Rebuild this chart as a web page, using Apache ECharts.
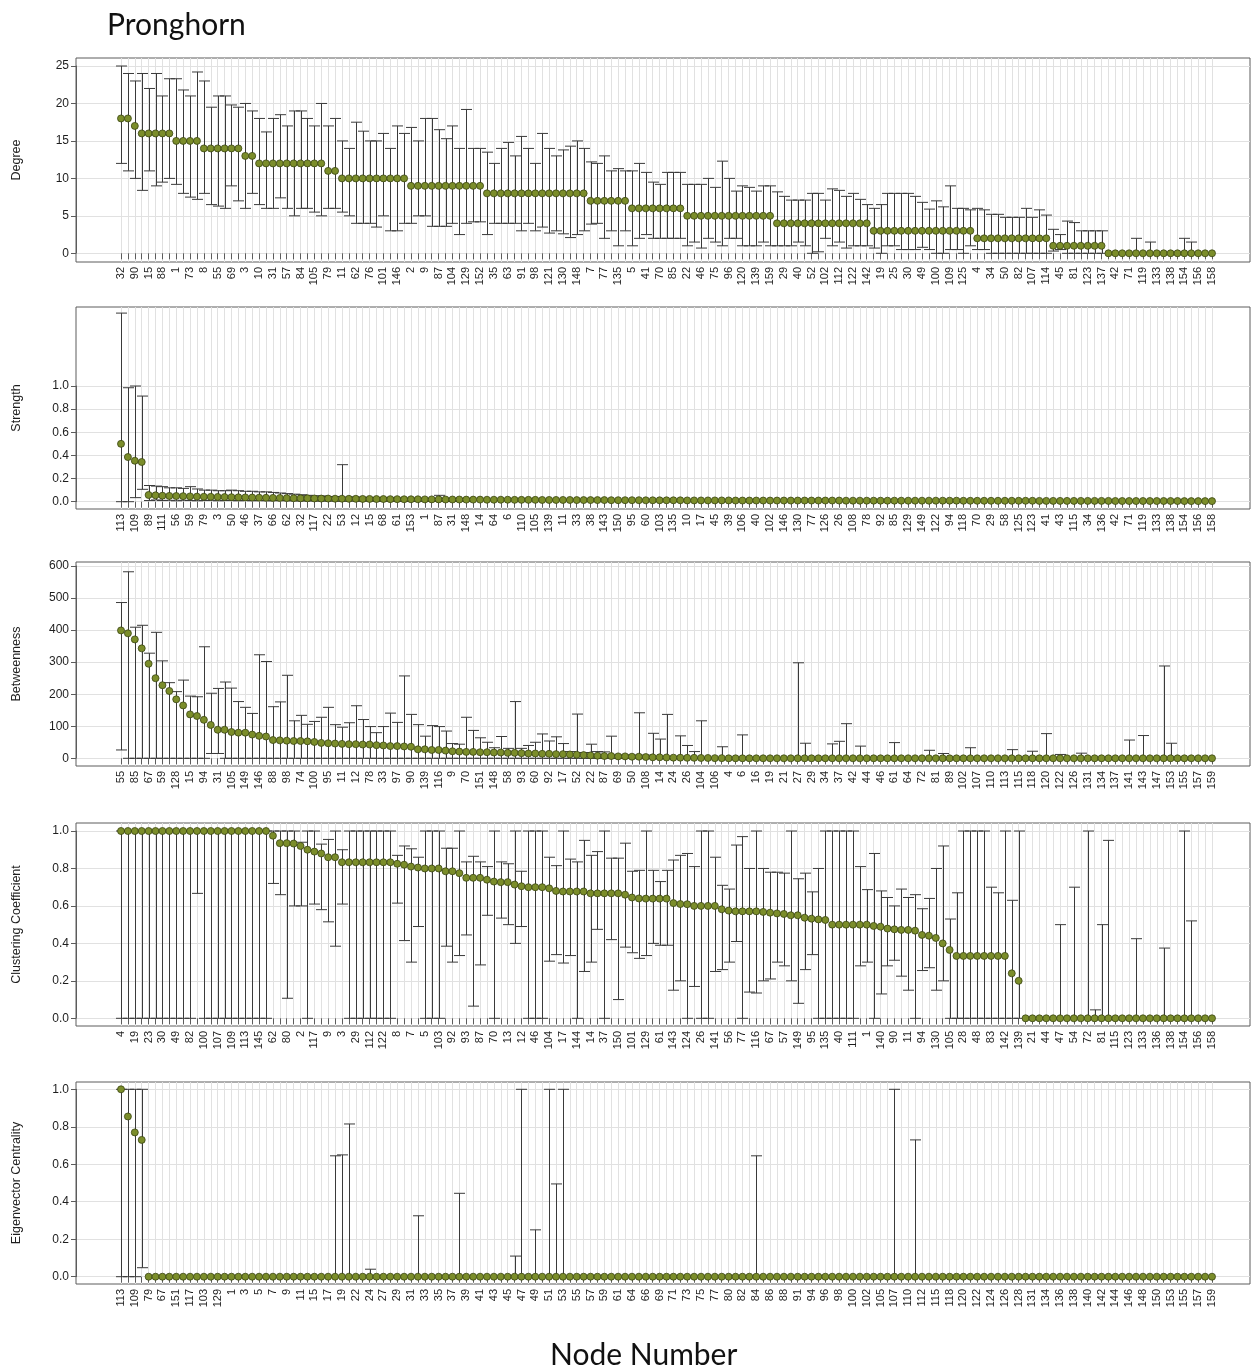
<!DOCTYPE html>
<html>
<head>
<meta charset="utf-8">
<script src="https://cdn.jsdelivr.net/npm/echarts@6.0.0/dist/echarts.min.js"></script>
<style>
  html, body { margin: 0; padding: 0; background: #ffffff; }
  #chart { width: 1252px; height: 1370px; }
</style>
</head>
<body>
<div id="chart"></div>
<script>
// ---------------- Degree ----------------
const degreeNodes = [
  32,6,90,12,15,13,88,14,1,16,
  73,17,8,18,55,20,69,21,3,23,
  10,24,31,26,57,27,84,28,105,33,
  79,36,11,37,62,38,76,39,101,43,
  146,44,2,47,9,48,87,51,104,53,
  129,54,152,56,35,58,63,59,91,60,
  98,61,121,64,130,65,148,66,7,67,
  77,68,135,72,5,74,41,78,70,80,
  85,83,22,86,46,89,75,92,96,93,
  120,94,139,95,159,97,29,99,40,103,
  52,106,102,108,112,110,122,111,142,113,
  19,115,25,116,30,117,49,118,100,124,
  109,126,125,127,4,128,34,131,50,132,
  82,134,107,136,114,140,45,141,81,143,
  123,144,137,145,42,147,71,149,119,150,
  133,151,138,153,154,155,156,157,158
];
const degreeValue = [
  18,18,17,16,16,16,16,16,15,15,
  15,15,14,14,14,14,14,14,13,13,
  12,12,12,12,12,12,12,12,12,12,
  11,11,10,10,10,10,10,10,10,10,
  10,10,9,9,9,9,9,9,9,9,
  9,9,9,8,8,8,8,8,8,8,
  8,8,8,8,8,8,8,8,7,7,
  7,7,7,7,6,6,6,6,6,6,
  6,6,5,5,5,5,5,5,5,5,
  5,5,5,5,5,4,4,4,4,4,
  4,4,4,4,4,4,4,4,4,3,
  3,3,3,3,3,3,3,3,3,3,
  3,3,3,3,2,2,2,2,2,2,
  2,2,2,2,2,1,1,1,1,1,
  1,1,1,0,0,0,0,0,0,0,
  0,0,0,0,0,0,0,0,0
];
const degreeLow = [
  12,11,10,8.4,11,9,9.5,10,9.2,8,
  7.5,7.2,8,6.5,6.3,6,9,7,6,8,
  6.5,6,6,7.4,6,5,6,6,5.5,5,
  6,6,5.5,5,4,4,4,3.5,5,3,
  3,4,4,5,5,3.6,3.6,3.6,4,2.5,
  4,4.2,4.2,2.5,4,4,4,4,3,4,
  3,3.5,2.7,3,2.6,2.1,2.5,3,3.9,4,
  2,3,1,3,1,2,2.5,2,2,2,
  2,2,1,1.5,0.7,2,1.5,1,2,2,
  1,1,1,1.5,1,1,1,1,1.5,1,
  0,0.2,2,1,1.5,0.7,1,1,1,0.7,
  0,1,1,0.5,0.5,0.5,0.8,0.5,0,0,
  0.5,0.5,0,1,0.5,0.5,0,0,0,0,
  0,0,0,0,0,0.3,0.5,0,0,0
];
const degreeHigh = [
  25,24,23,24,22,24,21,23.3,23.3,21.8,
  21,24.2,23,19.5,21,21,19.8,19.5,20,19,
  18,16.2,18,18.5,17,19,19,18,17,20,
  17,18,15,14,17.5,16.3,15,15,16,14,
  17,16,16.8,15,18,18,16.5,15.3,17,14,
  19.2,14,14,13.5,12,14,14.8,13,15.6,14,
  12,16,14,13,13.8,14.3,15,14,12.2,12,
  13,11,11.3,11,11,12,10.8,9.5,9.2,10.8,
  10.8,10.8,9.2,9.2,9.2,10,8.8,12.3,10,8.3,
  9,8.8,8.3,9,9,8.2,7.6,7.1,7.1,7.1,
  8,8,7.1,8.6,8.4,7.6,8,7.2,6.5,6,
  6.5,8,8,8,8,7.6,6.8,5.9,7,6.2,
  9,6,6,5.8,6,5.8,5.2,5.2,4.8,4.8,
  4.8,6,4.8,5.8,5.1,3.2,2.5,4.3,4.1,3,
  3,3,3,0,0,0,0,2,0,1.5,
  0,0,0,0,2,1.5,0,0,0
];

// ---------------- Strength ----------------
const strengthNodes = [
  113,90,109,88,89,73,111,8,56,2,
  59,9,79,84,3,76,50,57,46,5,
  37,4,66,7,62,13,32,16,117,18,
  22,19,53,20,12,21,15,23,68,24,
  61,25,153,27,1,28,87,30,31,35,
  148,36,14,44,64,47,6,48,110,49,
  105,51,139,52,11,54,33,55,38,63,
  143,65,150,67,95,69,60,72,103,74,
  135,75,10,80,17,81,45,82,39,83,
  106,86,40,91,102,93,146,96,130,97,
  77,98,126,99,26,100,108,101,78,104,
  92,107,85,112,129,114,149,116,122,120,
  94,121,118,124,70,127,29,128,58,131,
  125,132,123,134,41,137,43,140,115,141,
  34,142,136,144,42,145,71,147,119,151,
  133,152,138,155,154,157,156,159,158
];
const strengthValue = [
  0.5,0.386,0.354,0.343,0.058,0.055,0.052,0.05,0.049,0.048,
  0.046,0.044,0.043,0.042,0.041,0.04,0.039,0.038,0.037,0.036,
  0.035,0.034,0.033,0.032,0.031,0.03,0.029,0.029,0.028,0.027,
  0.027,0.026,0.026,0.025,0.025,0.024,0.024,0.023,0.023,0.022,
  0.022,0.021,0.021,0.021,0.02,0.02,0.02,0.019,0.019,0.019,
  0.018,0.018,0.018,0.017,0.017,0.017,0.017,0.016,0.016,0.016,
  0.016,0.015,0.015,0.015,0.015,0.015,0.014,0.014,0.014,0.014,
  0.014,0.013,0.013,0.013,0.013,0.013,0.012,0.012,0.012,0.012,
  0.012,0.012,0.011,0.011,0.011,0.011,0.011,0.011,0.011,0.01,
  0.01,0.01,0.01,0.01,0.01,0.01,0.01,0.01,0.01,0.01,
  0.01,0.01,0.01,0.01,0.01,0.009,0.009,0.009,0.009,0.009,
  0.009,0.009,0.009,0.009,0.009,0.009,0.009,0.009,0.009,0.009,
  0.009,0.009,0.008,0.008,0.008,0.008,0.008,0.008,0.008,0.008,
  0.008,0.008,0.008,0.007,0.007,0.007,0.007,0.007,0.007,0.007,
  0.007,0.007,0.007,0.007,0.006,0.006,0.006,0.006,0.006,0.006,
  0.006,0.006,0.006,0.006,0.005,0.005,0.005,0.005,0.005
];
// intervals are listed for the leading nodes; the rest collapse onto their points
const strengthLow = [
  0,0,0.035,0.107,0.01,0.015,0.01,0.012,0.008,0.012,
  0.01,0.008,0.01,0.012,0.008,0.01,0.01,0.008,0.01,0.008,
  0.01,0.008,0.008,0.01,0.008,0.008,0.006,0.008,0.006,0.006,
  0.006,0.006,0.004,0.006,0.006,0.004,0.006,0.004,0.004,0.004,
  0.004,0.004,0.004,0.004,0.004,0.004,0.004,0.004,0.004,0.004,
  0.004
];
const strengthHigh = [
  1.63,0.985,1.0,0.913,0.14,0.135,0.13,0.12,0.12,0.115,
  0.13,0.11,0.1,0.1,0.095,0.095,0.1,0.095,0.09,0.09,
  0.085,0.085,0.08,0.075,0.07,0.065,0.06,0.055,0.05,0.05,
  0.045,0.045,0.32,0.04,0.04,0.038,0.036,0.035,0.034,0.033,
  0.032,0.03,0.03,0.03,0.029,0.029,0.055,0.028,0.027,0.027,
  0.026
];

// ---------------- Betweenness ----------------
const betweennessNodes = [
  55,32,85,1,67,3,59,8,128,101,
  15,10,94,13,31,25,105,36,149,130,
  146,39,88,40,98,41,74,48,100,49,
  95,51,11,53,12,54,78,56,33,57,
  97,63,90,66,139,68,116,71,9,75,
  70,76,151,77,148,79,58,80,93,83,
  60,84,92,86,17,96,52,99,22,2,
  87,112,69,124,50,125,108,129,14,133,
  24,136,26,140,104,145,106,152,4,5,
  6,7,16,18,19,20,21,23,27,28,
  29,30,34,35,37,38,42,43,44,45,
  46,47,61,62,64,65,72,73,81,82,
  89,91,102,103,107,109,110,111,113,114,
  115,117,118,119,120,121,122,123,126,127,
  131,132,134,135,137,138,141,142,143,144,
  147,150,153,154,155,156,157,158,159
];
const betweennessValue = [
  399,390,371,343,295,250,228,210,184,165,
  137,132,120,104,89,89,82,80,80,74,
  70,68,57,56,55,54,54,53,51,48,
  47,46,45,44,44,43,43,41,40,38,
  38,37,36,28,28,26,26,24,22,21,
  20,20,19,19,18,18,17,17,16,15,
  15,14,14,13,13,12,11,10,9,8,
  7,7,6,6,5,5,4,3,3,2.5,
  2,2,1.5,1.5,1,1,0.5,0.5,0,0,
  0,0,0,0,0,0,0,0,0,0,
  0,0,0,0,0,0,0,0,0,0,
  0,0,0,0,0,0,0,0,0,0,
  0,0,0,0,0,0,0,0,0,0,
  0,0,0,0,0,0,0,0,0,0,
  0,0,0,0,0,0,0,0,0,0,
  0,0,0,0,0,0,0,0,0
];
const betweennessLow = [
  26,0,0,0,0,0,0,0,0,0,
  0,0,0,15,15,0
];
const betweennessHigh = [
  486,582,409,415,328,393,304,236,208,244,
  194,192,348,203,218,238,219,177,159,140,
  323,302,161,176,259,117,134,106,115,128,
  159,105,97,111,164,121,99,80,99,141,
  112,257,137,105,69,102,99,85,46,44,
  128,87,64,50,33,68,31,177,31,40,
  50,76,54,67,46,21,138,18,44,21,
  20,69,10,10,10,142,10,78,60,137,
  0,70,40,21,117,0,0,36,0,0,
  73,0,0,0,0,0,0,0,298,47,
  0,0,0,45,53,108,0,38,0,0,
  0,0,49,0,0,0,0,25,0,15,
  0,0,0,33,0,0,0,0,0,27,
  0,0,22,0,77,0,12,0,0,16,
  0,0,0,0,0,0,57,0,71,0,
  0,288,47,0,0,0,0,0,0
];

// ---------------- Clustering Coefficient ----------------
const clusteringNodes = [
  4,6,19,20,23,24,30,31,49,51,
  82,85,100,102,107,108,109,110,113,114,
  145,147,62,15,80,16,2,18,117,25,
  9,27,3,32,29,33,112,34,122,35,
  8,36,7,38,5,39,103,41,92,42,
  93,43,87,52,70,53,13,58,12,59,
  46,60,104,63,17,64,144,65,14,66,
  37,68,150,69,101,71,129,74,61,75,
  143,76,124,78,26,79,141,86,56,88,
  77,89,116,91,67,96,57,97,149,98,
  95,99,135,106,40,119,111,120,1,121,
  140,126,90,127,11,128,94,131,130,132,
  105,148,28,151,48,152,83,153,142,159,
  139,10,21,22,44,45,47,50,54,55,
  72,73,81,84,115,118,123,125,133,134,
  136,137,138,146,154,155,156,157,158
];
const clusteringValue = [
  1,1,1,1,1,1,1,1,1,1,
  1,1,1,1,1,1,1,1,1,1,
  1,1,0.975,0.935,0.935,0.933,0.92,0.9,0.89,0.88,
  0.86,0.86,0.833,0.833,0.833,0.833,0.833,0.833,0.833,0.833,
  0.825,0.82,0.81,0.805,0.8,0.8,0.8,0.785,0.785,0.775,
  0.75,0.75,0.75,0.74,0.73,0.727,0.727,0.714,0.705,0.7,
  0.7,0.7,0.694,0.68,0.677,0.677,0.677,0.677,0.667,0.667,
  0.667,0.667,0.667,0.66,0.645,0.64,0.639,0.639,0.639,0.639,
  0.615,0.61,0.609,0.6,0.6,0.6,0.6,0.582,0.575,0.571,
  0.571,0.571,0.571,0.568,0.564,0.56,0.557,0.55,0.55,0.537,
  0.532,0.528,0.525,0.5,0.5,0.5,0.5,0.5,0.5,0.493,
  0.489,0.479,0.475,0.472,0.472,0.468,0.445,0.441,0.429,0.4,
  0.365,0.333,0.333,0.333,0.333,0.333,0.333,0.333,0.333,0.24,
  0.2,0,0,0,0,0,0,0,0,0,
  0,0,0,0,0,0,0,0,0,0,
  0,0,0,0,0,0,0,0,0
];
const clusteringLow = [
  0,0,0,0,0,0,0,0,0,0,
  0,0.667,0,0,0,0,0,0,0,0,
  0,0,0.72,0.66,0.107,0.6,0.6,0,0.61,0.58,
  0.515,0.385,0.61,0,0,0,0,0,0,0,
  0.615,0.415,0.3,0.49,0,0,0,0.385,0.3,0.335,
  0.445,0.065,0.285,0.55,0,0.535,0.5,0.4,0.49,0,
  0,0,0.305,0.34,0.295,0.335,0,0.25,0.3,0.475,
  0,0.42,0.1,0.38,0.35,0.32,0.335,0.4,0.39,0.39,
  0.15,0.2,0,0.17,0,0,0.25,0.26,0.3,0.41,
  0,0.14,0.135,0.2,0.21,0.3,0.28,0.2,0.08,0.26,
  0.34,0,0,0,0,0,0,0.28,0.3,0,
  0.13,0.28,0.31,0.225,0.15,0,0.255,0.27,0.15,0.2
];
const clusteringHigh = [
  1,1,1,1,1,1,1,1,1,1,
  1,1,1,1,1,1,1,1,1,1,
  1,1,1,1,1,1,0.94,1,1,0.93,
  0.955,1,0.9,1,1,1,1,1,1,1,
  0.87,0.92,0.905,0.86,1,1,1,0.908,0.908,1,
  0.835,0.865,0.835,0.81,1,0.835,0.825,1,0.785,1,
  1,1,0.86,0.815,1,0.85,0.835,0.95,0.87,0.89,
  1,0.855,0.855,0.935,0.785,0.79,1,0.79,0.73,0.79,
  0.845,0.87,0.88,0.81,1,1,0.86,0.71,0.69,0.925,
  0.97,0.8,1,0.8,0.78,0.78,0.775,1,0.745,0.775,
  0.675,0.8,1,1,1,1,1,0.81,0.687,0.88,
  0.68,0.645,0.6,0.69,0.645,0.66,0.585,0.64,0.8,0.92,
  0.53,0.67,1,1,1,1,0.7,0.67,1,0.63,
  1,0,0,0,0,0,0.5,0,0.7,0,
  1,0.045,0.5,0.95,0,0,0,0.425,0,0,
  0,0.375,0,0,1,0.52,0,0,0
];

// ---------------- Eigenvector Centrality ----------------
const eigenNodes = [
  113,90,109,93,79,63,67,13,151,14,
  117,21,103,26,129,133,1,2,3,4,
  5,6,7,8,9,10,11,12,15,16,
  17,18,19,20,22,23,24,25,27,28,
  29,30,31,32,33,34,35,36,37,38,
  39,40,41,42,43,44,45,46,47,48,
  49,50,51,52,53,54,55,56,57,58,
  59,60,61,62,64,65,66,68,69,70,
  71,72,73,74,75,76,77,78,80,81,
  82,83,84,85,86,87,88,89,91,92,
  94,95,96,97,98,99,100,101,102,104,
  105,106,107,108,110,111,112,114,115,116,
  118,119,120,121,122,123,124,125,126,127,
  128,130,131,132,134,135,136,137,138,139,
  140,141,142,143,144,145,146,147,148,149,
  150,152,153,154,155,156,157,158,159
];
const eigenValue = [
  1,0.855,0.77,0.73,0,0,0,0,0,0,
  0,0,0,0,0,0,0,0,0,0,
  0,0,0,0,0,0,0,0,0,0,
  0,0,0,0,0,0,0,0,0,0,
  0,0,0,0,0,0,0,0,0,0,
  0,0,0,0,0,0,0,0,0,0,
  0,0,0,0,0,0,0,0,0,0,
  0,0,0,0,0,0,0,0,0,0,
  0,0,0,0,0,0,0,0,0,0,
  0,0,0,0,0,0,0,0,0,0,
  0,0,0,0,0,0,0,0,0,0,
  0,0,0,0,0,0,0,0,0,0,
  0,0,0,0,0,0,0,0,0,0,
  0,0,0,0,0,0,0,0,0,0,
  0,0,0,0,0,0,0,0,0,0,
  0,0,0,0,0,0,0,0,0
];
const eigenLow = [0,0,0,0.048];
const eigenHigh = [
  1,1,1,1,0,0,0,0,0,0,
  0,0,0,0,0,0,0,0,0,0,
  0,0,0,0,0,0,0,0,0,0,
  0,0.645,0.65,0.815,0,0,0.04,0,0,0,
  0,0,0,0.325,0,0,0,0,0,0.445,
  0,0,0,0,0,0,0,0.11,1,0,
  0.25,0,1,0.495,1,0,0,0,0,0,
  0,0,0,0,0,0,0,0,0,0,
  0,0,0,0,0,0,0,0,0,0,
  0,0,0.645,0,0,0,0,0,0,0,
  0,0,0,0,0,0,0,0,0,0,
  0,0,1,0,0,0.73,0,0,0,0,
  0,0,0,0,0,0,0,0,0,0,
  0,0,0,0,0,0,0,0,0,0,
  0,0,0,0,0,0,0,0,0,0,
  0,0,0,0,0,0,0,0,0
];

// ---------------- layout & styling ----------------
const WIDTH = 1252;
const FRAME_LEFT = 76, FRAME_RIGHT = 1250;   // plot frame
const FIRST_X = 121, LAST_X = 1212;          // first / last node position
const FONT = '"Liberation Sans", Arial, sans-serif';
const COLORS = {
  point: '#7b8d2a', pointEdge: '#3a4512', whisker: '#3a3a3a',
  grid: '#e1e1e1', frame: '#5c5c5c', text: '#1e1e1e'
};

const panels = [
  { name: 'Degree', nodes: degreeNodes, value: degreeValue, low: degreeLow, high: degreeHigh,
    frame: [58, 262], scale: { min: 0, max: 25, step: 5, pxTop: 66, pxBottom: 253.3, digits: 0 } },
  { name: 'Strength', nodes: strengthNodes, value: strengthValue, low: strengthLow, high: strengthHigh,
    frame: [307, 509], scale: { min: 0, max: 1, step: 0.2, pxTop: 386, pxBottom: 501.7, digits: 1 } },
  { name: 'Betweenness', nodes: betweennessNodes, value: betweennessValue, low: betweennessLow, high: betweennessHigh,
    frame: [562, 766], scale: { min: 0, max: 600, step: 100, pxTop: 566, pxBottom: 758.3, digits: 0 } },
  { name: 'Clustering Coefficient', nodes: clusteringNodes, value: clusteringValue, low: clusteringLow, high: clusteringHigh,
    frame: [823, 1026], scale: { min: 0, max: 1, step: 0.2, pxTop: 831, pxBottom: 1018.3, digits: 1 } },
  { name: 'Eigenvector Centrality', nodes: eigenNodes, value: eigenValue, low: eigenLow, high: eigenHigh,
    frame: [1082, 1284], scale: { min: 0, max: 1, step: 0.2, pxTop: 1089.3, pxBottom: 1276.7, digits: 1 } }
];

// whiskers with end caps, one per node
function renderWhisker(params, api) {
  const lo = api.value(1), hi = api.value(2);
  const a = api.coord([api.value(0), lo]);
  const b = api.coord([api.value(0), hi]);
  const x = Math.round(a[0]) + 0.5;
  const cap = 5.5;
  const style = { stroke: COLORS.whisker, lineWidth: 1 };
  return {
    type: 'group',
    children: [
      { type: 'line', shape: { x1: x, y1: a[1], x2: x, y2: b[1] }, style },
      { type: 'line', shape: { x1: x - cap, y1: a[1], x2: x + cap, y2: a[1] }, style },
      { type: 'line', shape: { x1: x - cap, y1: b[1], x2: x + cap, y2: b[1] }, style }
    ]
  };
}

const grid = [], xAxis = [], yAxis = [], series = [];

panels.forEach((p, k) => {
  const [top, bottom] = p.frame;
  const s = p.scale;
  const pxPerUnit = (s.pxBottom - s.pxTop) / (s.max - s.min);
  const frameMax = s.max + (s.pxTop - top) / pxPerUnit;
  const frameMin = s.min - (bottom - s.pxBottom) / pxPerUnit;

  // 1) frame with the axis title
  grid.push({ left: FRAME_LEFT, right: WIDTH - FRAME_RIGHT, top: top, height: bottom - top,
              show: true, borderColor: COLORS.frame, borderWidth: 1, backgroundColor: 'transparent' });
  xAxis.push({ gridIndex: 3 * k, type: 'value', show: false });
  yAxis.push({ gridIndex: 3 * k, type: 'value', min: 0, max: 1,
               name: p.name, nameLocation: 'middle', nameGap: 53,
               nameTextStyle: { fontFamily: FONT, fontSize: 12.5, color: COLORS.text },
               axisLine: { show: false }, axisTick: { show: false },
               axisLabel: { show: false }, splitLine: { show: false } });

  // 2) labelled value scale with horizontal guide lines
  grid.push({ left: FRAME_LEFT, right: WIDTH - FRAME_RIGHT, top: s.pxTop, height: s.pxBottom - s.pxTop });
  xAxis.push({ gridIndex: 3 * k + 1, type: 'value', show: false });
  yAxis.push({ gridIndex: 3 * k + 1, type: 'value', min: s.min, max: s.max, interval: s.step, offset: 3,
               axisLine: { show: true, lineStyle: { color: COLORS.frame } },
               axisTick: { show: true, length: 5, lineStyle: { color: COLORS.frame } },
               axisLabel: { margin: 4, fontFamily: FONT, fontSize: 12, color: COLORS.text,
                            formatter: v => v.toFixed(s.digits) },
               splitLine: { show: true, lineStyle: { color: COLORS.grid, width: 1 } } });

  // 3) node axis carrying the marks
  grid.push({ left: FIRST_X, right: WIDTH - LAST_X, top: top, height: bottom - top });
  xAxis.push({ gridIndex: 3 * k + 2, type: 'category', data: p.nodes.map(String), boundaryGap: false,
               axisLine: { show: false },
               axisTick: { show: true, interval: 0, length: 6, lineStyle: { color: COLORS.frame } },
               axisLabel: { interval: 1, rotate: 90, margin: 5, fontFamily: FONT, fontSize: 11, color: COLORS.text },
               splitLine: { show: true, interval: 0, lineStyle: { color: COLORS.grid, width: 1 } } });
  yAxis.push({ gridIndex: 3 * k + 2, type: 'value', min: frameMin, max: frameMax, show: false });

  const whiskers = [];
  p.nodes.forEach((n, i) => {
    const hi = p.high[i];
    const lo = p.low[i] === undefined ? 0 : p.low[i];
    if (hi !== undefined && hi > lo) whiskers.push([i, lo, hi]);
  });

  series.push({ type: 'custom', xAxisIndex: 3 * k + 2, yAxisIndex: 3 * k + 2,
                renderItem: renderWhisker, data: whiskers, encode: { x: 0, y: [1, 2] },
                silent: true, z: 3 });
  series.push({ type: 'scatter', xAxisIndex: 3 * k + 2, yAxisIndex: 3 * k + 2,
                data: p.value, symbol: 'circle', symbolSize: 7, clip: false, silent: true,
                itemStyle: { color: COLORS.point, borderColor: COLORS.pointEdge, borderWidth: 0.8, opacity: 1 },
                z: 4 });
});

const chart = echarts.init(document.getElementById('chart'), null, { renderer: 'canvas' });
chart.setOption({
  animation: false,
  backgroundColor: '#ffffff',
  title: [
    { text: 'Pronghorn', left: 102, top: 5,
      textStyle: { fontFamily: 'Lato, "Open Sans", sans-serif', fontSize: 30, fontWeight: 'normal', color: '#111' } },
    { text: 'Node Number', left: 545, top: 1335,
      textStyle: { fontFamily: 'Lato, "Open Sans", sans-serif', fontSize: 30, fontWeight: 'normal', color: '#111' } }
  ],
  grid, xAxis, yAxis, series
});
</script>
</body>
</html>
